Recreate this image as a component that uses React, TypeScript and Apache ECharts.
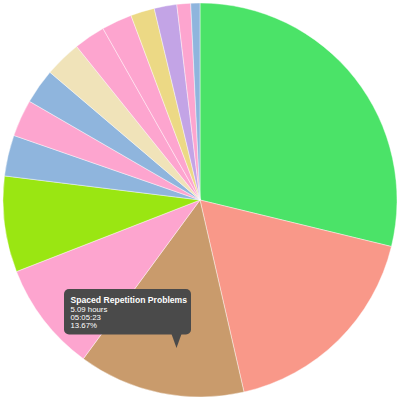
import React, { useEffect, useRef } from "react";
import * as echarts from "echarts";

const categories = [
  "Deep Work",
  "Meetings",
  "Spaced Repetition Problems",
  "Reading",
  "Exercise",
  "Email",
  "Planning",
  "Code Review",
  "Writing",
  "Research",
  "Admin",
  "Learning",
  "Design",
  "Breaks",
  "Misc",
];
const hours = [10.72, 6.56, 5.0897, 3.35, 2.93, 1.25, 1.13, 1.07, 1.12, 0.96, 0.93, 0.73, 0.69, 0.42, 0.28];
const colors = [
  "#4be368", "#f99889", "#c99b6c", "#fda5cf", "#9ae612", "#8fb5dd", "#fda5cf", "#8fb5dd",
  "#f0e3b9", "#fda5cf", "#fda5cf", "#ecd985", "#c3a4e6", "#fda5cf", "#8fb5dd",
];
const tooltipIndex = 2;

function fmtHMS(h: number): string {
  const s = Math.round(h * 3600);
  const hh = Math.floor(s / 3600);
  const mm = Math.floor((s % 3600) / 60);
  const ss = s % 60;
  const p = (n: number) => String(n).padStart(2, "0");
  return `${p(hh)}:${p(mm)}:${p(ss)}`;
}

export default function App() {
  const ref = useRef<HTMLDivElement>(null);
  useEffect(() => {
    document.body.style.margin = "0";
    const chart = echarts.init(ref.current!, null, { renderer: "svg" });
    const total = hours.reduce((a, b) => a + b, 0);
    const v = hours[tooltipIndex];
    const font = "'Liberation Sans', Arial, sans-serif";
    chart.setOption({
      animation: false,
      series: [
        {
          type: "pie",
          center: [200, 200],
          radius: [0, 197],
          startAngle: 90,
          clockwise: true,
          label: { show: false },
          labelLine: { show: false },
          itemStyle: { borderColor: "rgba(255,255,255,0.7)", borderWidth: 0.6 },
          emphasis: { disabled: true },
          data: categories.map((name, i) => ({
            name,
            value: hours[i],
            itemStyle: { color: colors[i] },
          })),
        },
      ],
      graphic: [
        {
          type: "rect",
          z: 100,
          silent: true,
          shape: { x: 64, y: 289, width: 127, height: 45.5, r: 5 },
          style: { fill: "#4a4a4a" },
        },
        {
          type: "polygon",
          z: 100,
          silent: true,
          shape: { points: [[171.5, 334], [181.5, 334], [176.5, 348]] },
          style: { fill: "#4a4a4a" },
        },
        {
          type: "text",
          z: 101,
          silent: true,
          x: 70.5,
          y: 295,
          style: {
            text: categories[tooltipIndex],
            fill: "#ffffff",
            font: `bold 8.6px ${font}`,
            verticalAlign: "top",
          },
        },
        {
          type: "text",
          z: 101,
          silent: true,
          x: 70.5,
          y: 305.5,
          style: {
            text: `${v.toFixed(2)} hours\n${fmtHMS(v)}\n${((v / total) * 100).toFixed(2)}%`,
            fill: "#ffffff",
            font: `7.8px ${font}`,
            lineHeight: 8,
            verticalAlign: "top",
          },
        },
      ],
    });
    return () => chart.dispose();
  }, []);
  return <div ref={ref} style={{ position: "absolute", left: 0, top: 0, width: 400, height: 400 }} />;
}
